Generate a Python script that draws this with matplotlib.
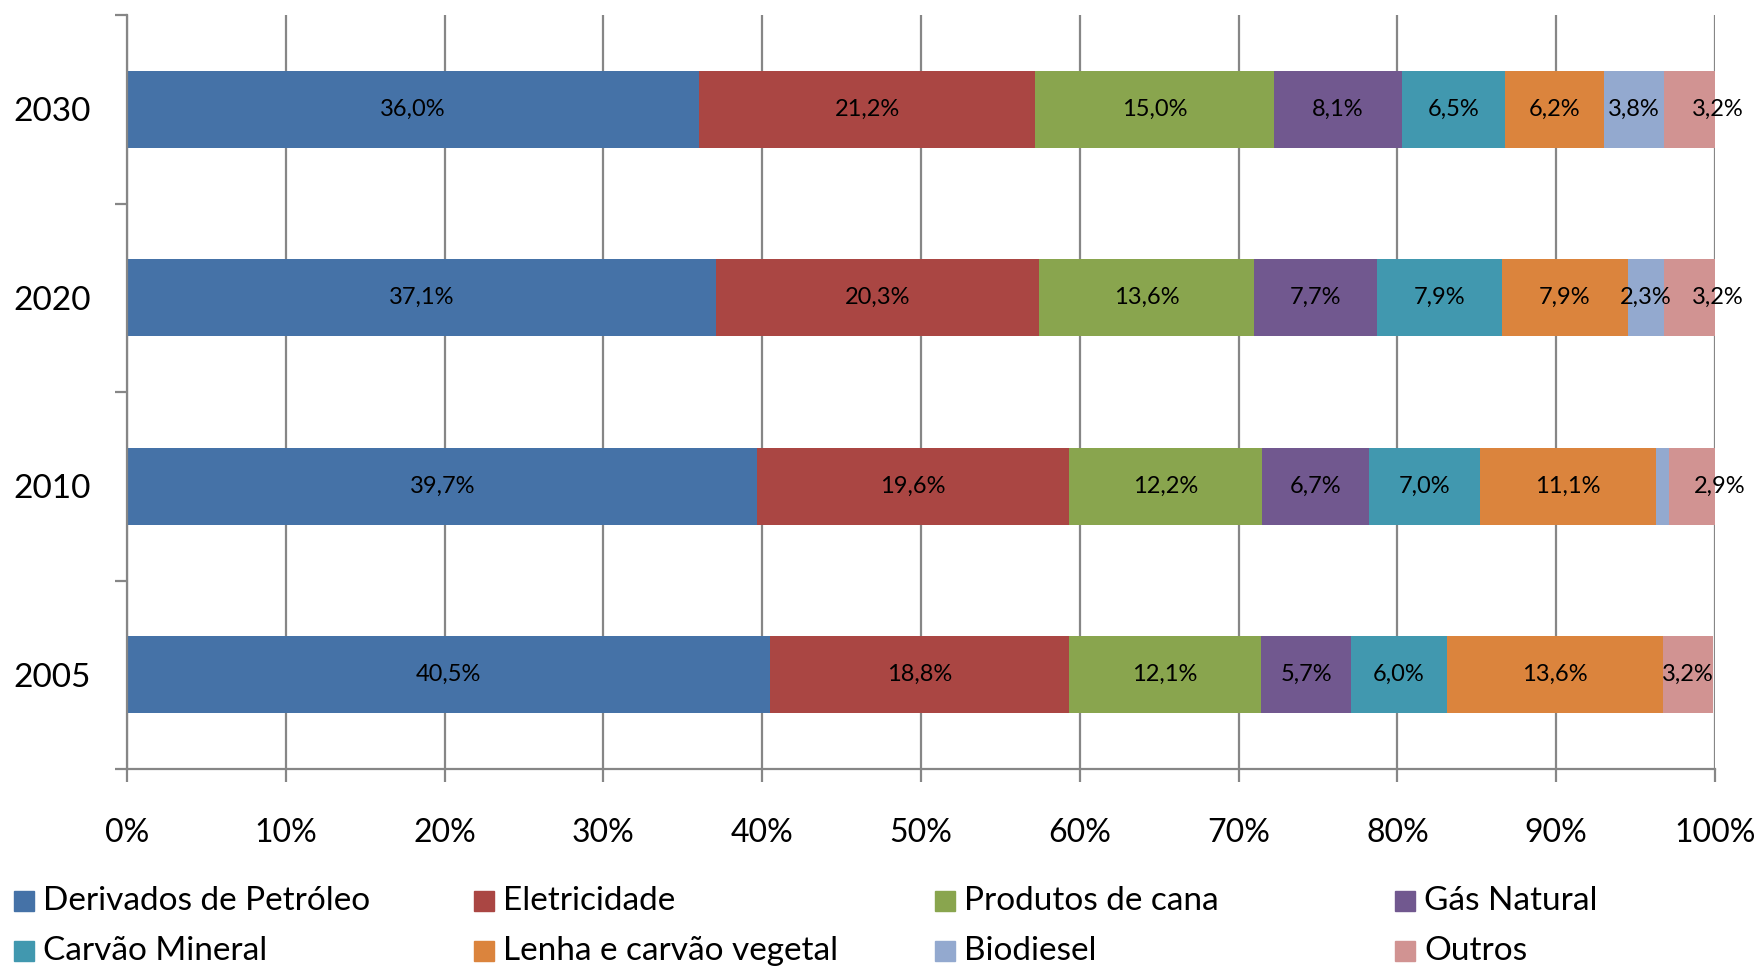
import numpy as np
import matplotlib
matplotlib.use('Agg')
import matplotlib.pyplot as plt
from matplotlib.patches import Rectangle
from matplotlib.ticker import FixedLocator

plt.rcParams['font.family'] = ['Lato', 'DejaVu Sans']

years = ['2005', '2010', '2020', '2030']
series = ['Derivados de Petróleo', 'Eletricidade', 'Produtos de cana', 'Gás Natural',
          'Carvão Mineral', 'Lenha e carvão vegetal', 'Biodiesel', 'Outros']

# shares in %, one list per source, order follows years
petroleo = [40.5, 39.7, 37.1, 36.0]
eletricidade = [18.8, 19.6, 20.3, 21.2]
cana = [12.1, 12.2, 13.6, 15.0]
gas = [5.7, 6.7, 7.7, 8.1]
carvao = [6.0, 7.0, 7.9, 6.5]
lenha = [13.6, 11.1, 7.9, 6.2]
biodiesel = [0.0, 0.8, 2.3, 3.8]
outros = [3.2, 2.9, 3.2, 3.2]

colors = ['#4572A7', '#AA4643', '#89A54E', '#71588F',
          '#4198AF', '#DB843D', '#93A9CF', '#D19392']

data = np.array([petroleo, eletricidade, cana, gas, carvao, lenha, biodiesel, outros])

fig = plt.figure(figsize=(17.6, 9.68), dpi=100)
ax = fig.add_axes([127 / 1760, 1 - 769 / 968, (1715 - 127) / 1760, (769 - 15) / 968])

y = np.arange(len(years))
left = np.zeros(len(years))
for i, name in enumerate(series):
    vals = data[i]
    ax.barh(y, vals / 100, left=left / 100, height=0.41, color=colors[i], zorder=3)
    for j in range(len(years)):
        v = vals[j]
        if v < 1:
            continue
        cx = (left[j] + v / 2) / 100
        dx = 0
        # excel nudged the last label when there was a neighbour segment
        if i == len(series) - 1 and data[i - 1][j] > 0:
            dx = 20
        ax.annotate(f'{v:.1f}%'.replace('.', ','), (cx, y[j]), xytext=(dx, 0),
                    textcoords='offset points', ha='center', va='center',
                    fontsize=17, color='black', zorder=4)
    left = left + vals

ax.set_xlim(0, 1)
ax.set_ylim(-0.5, len(years) - 0.5)

ax.set_xticks(np.arange(0, 1.01, 0.1))
ax.set_xticklabels([f'{int(round(t * 100))}%' for t in np.arange(0, 1.01, 0.1)], fontsize=23)
ax.tick_params(axis='x', length=9.5, width=1.6, color='#868686', direction='out', pad=26)

ax.set_yticks(y)
ax.set_yticklabels(years, fontsize=24)
ax.tick_params(axis='y', which='major', length=0, pad=26)
ax.yaxis.set_minor_locator(FixedLocator(np.arange(-0.5, len(years), 1.0)))
ax.tick_params(axis='y', which='minor', length=9, width=1.6, color='#868686', direction='out')

ax.grid(axis='x', color='#868686', linewidth=1.6, zorder=0)
ax.set_axisbelow(True)
for s in ['top', 'right']:
    ax.spines[s].set_visible(False)
for s in ['left', 'bottom']:
    ax.spines[s].set_color('#868686')
    ax.spines[s].set_linewidth(1.6)
    ax.spines[s].set_zorder(5)

# legend laid out by hand in 4 equal columns like the original
col_x = [14, 474, 935, 1395]
row_y = [901, 951]
for i, name in enumerate(series):
    cx = col_x[i % 4]
    cy = row_y[i // 4]
    fig.patches.append(Rectangle((cx / 1760, 1 - (cy + 10) / 968), 20 / 1760, 20 / 968,
                                 transform=fig.transFigure, color=colors[i]))
    fig.text((cx + 29) / 1760, 1 - cy / 968, name, fontsize=24, va='center', ha='left')

fig.savefig('out.png', dpi=100)
